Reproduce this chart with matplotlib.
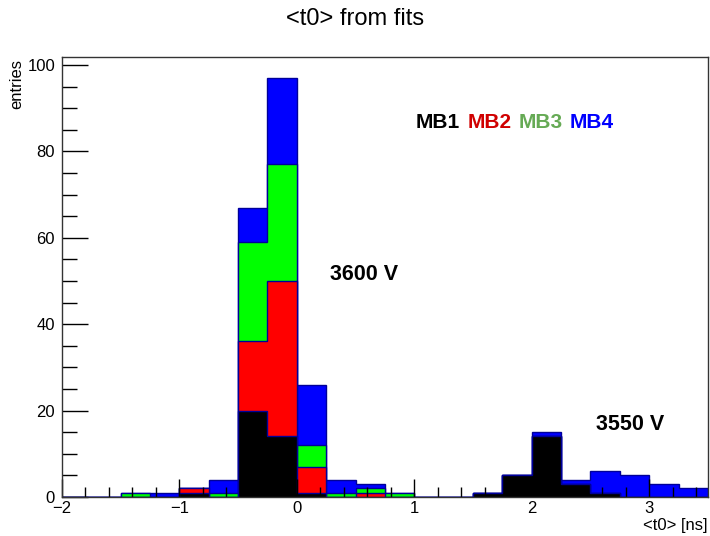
import numpy as np
import matplotlib.pyplot as plt
from matplotlib.ticker import MultipleLocator

plt.rcParams['font.family'] = ['Liberation Sans', 'DejaVu Sans']

# bins of 0.25 ns from -2 to 3.5
edges = np.arange(-2.0, 3.5001, 0.25)
mb1 = [0, 0, 0, 0, 1, 0, 20, 14, 1, 0, 0, 0, 0, 0, 1, 5, 14, 3, 1, 0, 0, 0]
mb2 = [0, 0, 0, 0, 1, 0, 16, 36, 6, 0, 1, 0, 0, 0, 0, 0, 0, 0, 0, 0, 0, 0]
mb3 = [0, 0, 1, 0, 0, 1, 23, 27, 5, 1, 1, 1, 0, 0, 0, 0, 0, 0, 0, 0, 0, 0]
mb4 = [0, 0, 0, 1, 0, 3, 8, 20, 14, 3, 1, 0, 0, 0, 0, 0, 1, 1, 5, 5, 3, 2]

series = [mb1, mb2, mb3, mb4]
fills = ['black', '#ff0000', '#00ff00', '#0000ff']
names = ['MB1', 'MB2', 'MB3', 'MB4']
label_cols = ['black', '#d00000', '#66aa55', '#0000ff']

fig = plt.figure(figsize=(7.10, 5.36), dpi=100)
ax = fig.add_axes([0.0873, 0.0728, 0.9097, 0.8209])

cum = np.cumsum(np.array(series), axis=0)
# THStack style: draw the full stack first, then each lower sum on top
for k in range(3, -1, -1):
    ax.stairs(cum[k], edges, fill=True, facecolor=fills[k],
              edgecolor='#000099', linewidth=1)

ax.set_xlim(-2, 3.5)
ax.set_ylim(0, 101.85)
ax.xaxis.set_major_locator(MultipleLocator(1))
ax.xaxis.set_minor_locator(MultipleLocator(0.2))
ax.yaxis.set_major_locator(MultipleLocator(20))
ax.yaxis.set_minor_locator(MultipleLocator(5))
ax.tick_params(axis='x', which='major', direction='in', length=13, width=1,
               labelsize=12, pad=3, top=False)
ax.tick_params(axis='x', which='minor', direction='in', length=7, width=1, top=False)
ax.tick_params(axis='y', which='major', direction='in', length=19, width=1,
               labelsize=12, pad=5, right=False)
ax.tick_params(axis='y', which='minor', direction='in', length=11, width=1, right=False)
for s in ax.spines.values():
    s.set_linewidth(1)
    s.set_color('#333333')

fig.text(0.5, 0.965, '<t0> from fits', ha='center', va='center', fontsize=17)
fig.text(0.024, 0.89, 'entries', rotation=90, ha='center', va='top', fontsize=12)
fig.text(0.997, 0.006, '<t0> [ns]', ha='right', va='bottom', fontsize=12)

x = 416
for name, col in zip(names, label_cols):
    t = fig.text(x / 710, 1 - 122 / 536, name, color=col, fontsize=15,
                 fontweight='bold', ha='left', va='center')
    fig.canvas.draw()
    bb = t.get_window_extent()
    x = bb.x1 + 7

fig.text(330 / 710, 1 - 275 / 536, '3600 V', fontsize=15.5, fontweight='bold',
         ha='left', va='center')
fig.text(596 / 710, 1 - 425 / 536, '3550 V', fontsize=15.5, fontweight='bold',
         ha='left', va='center')

fig.savefig('out.png', dpi=100)
